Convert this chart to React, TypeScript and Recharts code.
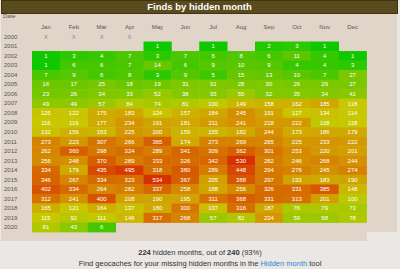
import { Scatter, ScatterChart, XAxis, YAxis } from "recharts";

const months = ["Jan", "Feb", "Mar", "Apr", "May", "Jun", "Jul", "Aug", "Sep", "Oct", "Nov", "Dec"];
const years = [
  "2000", "2001", "2002", "2003", "2004", "2005", "2006", "2007", "2008", "2009", "2010",
  "2011", "2012", "2013", "2014", "2015", "2016", "2017", "2018", "2019", "2020",
];
// finds per hidden month, one row per year (null = no cache hidden that month)
const counts: (number | null)[][] = [
  [null, null, null, null, null, null, null, null, null, null, null, null],
  [null, null, null, null, 1, null, 1, null, 2, 3, 1, null],
  [1, 3, 4, 7, 3, 7, 6, 8, 6, 11, 4, 1],
  [1, 6, 6, 7, 14, 6, 9, 10, 9, 4, 4, 3],
  [7, 9, 6, 8, 3, 9, 5, 15, 13, 10, 7, 27],
  [16, 17, 25, 18, 19, 31, 31, 28, 30, 26, 29, 27],
  [23, 26, 34, 33, 52, 38, 35, 55, 32, 35, 34, 41],
  [49, 49, 57, 84, 74, 81, 100, 149, 158, 162, 185, 118],
  [125, 122, 175, 183, 124, 157, 184, 245, 191, 127, 134, 114],
  [116, 119, 177, 234, 191, 181, 211, 241, 218, 222, 108, 118],
  [132, 156, 153, 225, 200, 159, 155, 182, 244, 173, 186, 179],
  [273, 223, 307, 266, 365, 174, 273, 269, 265, 225, 233, 222],
  [262, 360, 298, 324, 289, 341, 309, 362, 301, 253, 220, 201],
  [256, 248, 370, 289, 333, 326, 342, 530, 282, 246, 268, 244],
  [334, 179, 435, 495, 318, 380, 289, 448, 294, 276, 245, 274],
  [346, 267, 334, 323, 534, 367, 205, 388, 297, 193, 183, 190],
  [402, 334, 264, 282, 337, 258, 188, 256, 326, 331, 385, 148],
  [312, 241, 400, 208, 190, 195, 311, 368, 331, 313, 201, 100],
  [165, 121, 164, 137, 180, 300, 137, 316, 187, 76, 79, 73],
  [115, 92, 111, 146, 317, 268, 57, 82, 224, 59, 58, 78],
  [81, 43, 6, null, null, null, null, null, null, null, null, null],
];
const rowTotals = [0, 8, 61, 79, 119, 295, 438, 1264, 1881, 2136, 2143, 3095, 3460, 3734, 3967, 3607, 3508, 3190, 1935, 1607, 130];
const colTotals = [3016, 2614, 3326, 3267, 3524, 3158, 2908, 3971, 3408, 2745, 2544, 2156];
// months that cannot be found (before caching began)
const crossed: [string, string][] = [["2000", "Jan"], ["2000", "Feb"], ["2000", "Mar"], ["2000", "Apr"]];
const foundMonths = 224;
const possibleMonths = 240;

const cells = counts.flatMap((row, yi) =>
  row.flatMap((v, mi) => (v == null ? [] : [{ x: mi, y: yi, v }]))
);
const crosses = crossed.map(([y, m]) => ({ x: months.indexOf(m), y: years.indexOf(y) }));

const W = 400;
const H = 245;
const AXIS_L = 32;
const AXIS_R = 33.5;
const AXIS_T = 32;
const AXIS_B = 13;
const CELL_W = (W - AXIS_L - AXIS_R) / months.length;
const CELL_H = (H - AXIS_T - AXIS_B) / years.length;
const FONT = "'Liberation Sans', Arial, sans-serif";

const maxCell = Math.max(...cells.map((c) => c.v));
const stops: [number, number[]][] = [
  [0, [16, 200, 0]],
  [0.2, [48, 200, 0]],
  [0.42, [102, 198, 0]],
  [0.5, [116, 200, 0]],
  [0.62, [144, 200, 0]],
  [0.7, [176, 200, 0]],
  [0.76, [200, 200, 0]],
  [0.87, [212, 148, 0]],
  [1, [216, 48, 0]],
];
function heat(v: number) {
  const t = Math.log(v) / Math.log(maxCell);
  for (let i = 1; i < stops.length; i++) {
    const [t1, c1] = stops[i];
    const [t0, c0] = stops[i - 1];
    if (t <= t1) {
      const f = (t - t0) / (t1 - t0);
      const c = c0.map((a, k) => Math.round(a + (c1[k] - a) * f));
      return `rgb(${c.join(",")})`;
    }
  }
  return "rgb(216,48,0)";
}

const maxRow = Math.max(...rowTotals);
const maxCol = Math.max(...colTotals);

const HeatCell = (p: any) => (
  <g>
    <rect
      x={p.cx - CELL_W / 2}
      y={p.cy - CELL_H / 2}
      width={CELL_W + 0.4}
      height={CELL_H + 0.4}
      fill={heat(p.payload.v)}
    />
    <text x={p.cx} y={p.cy + 2.1} textAnchor="middle" fontSize={6} fill="#fff" fontFamily={FONT}>
      {p.payload.v}
    </text>
  </g>
);

const Cross = (p: any) => (
  <text x={p.cx} y={p.cy + 2.1} textAnchor="middle" fontSize={6} fill="#888" fontFamily={FONT}>
    X
  </text>
);

export default function App() {
  return (
    <div style={{ position: "relative", width: 400, height: 269, background: "#ebe7e4", fontFamily: FONT }}>
      <style>{`body{margin:0}`}</style>
      <div style={{ position: "absolute", left: 1, top: 14, width: 396, height: 218, background: "#e1d5c9" }} />
      <div style={{ position: "absolute", left: 1, top: 232, width: 366, height: 9, background: "#e1d5c9" }} />
      <div
        style={{
          position: "absolute",
          left: 1,
          top: 0,
          width: 395,
          height: 12,
          background: "#594b1d",
          border: "1px solid #3f3412",
          color: "#fff",
          fontWeight: "bold",
          fontSize: 9.5,
          lineHeight: "12px",
          textAlign: "center",
        }}
      >
        Finds by hidden month
      </div>
      <div style={{ position: "absolute", left: 3, top: 13, fontSize: 6, color: "#555" }}>Date</div>
      <div style={{ position: "absolute", left: 0, top: 0 }}>
        <ScatterChart width={W} height={H} margin={{ top: 0, right: 0, bottom: 0, left: 0 }}>
          <XAxis
            xAxisId="top"
            type="number"
            dataKey="x"
            orientation="top"
            height={AXIS_T}
            domain={[-0.5, months.length - 0.5]}
            ticks={months.map((_, i) => i)}
            interval={0}
            axisLine={false}
            tickLine={false}
            tick={(p: any) => (
              <text x={p.x} y={29} textAnchor="middle" fontSize={6} fill="#555" fontFamily={FONT}>
                {months[p.payload.value]}
              </text>
            )}
          />
          <XAxis
            xAxisId="bottom"
            type="number"
            dataKey="x"
            orientation="bottom"
            height={AXIS_B}
            domain={[-0.5, months.length - 0.5]}
            ticks={months.map((_, i) => i)}
            interval={0}
            axisLine={false}
            tickLine={false}
            tick={(p: any) => (
              <text
                x={p.x}
                y={238.5}
                textAnchor="middle"
                fontSize={6}
                fill={colTotals[p.payload.value] === maxCol ? "#d9534f" : "#888"}
                fontFamily={FONT}
              >
                {colTotals[p.payload.value]}
              </text>
            )}
          />
          <YAxis
            yAxisId="left"
            type="number"
            dataKey="y"
            orientation="left"
            width={AXIS_L}
            reversed
            domain={[-0.5, years.length - 0.5]}
            ticks={years.map((_, i) => i)}
            interval={0}
            axisLine={false}
            tickLine={false}
            tick={(p: any) => (
              <text x={4} y={p.y + 2} textAnchor="start" fontSize={6} fill="#555" fontFamily={FONT}>
                {years[p.payload.value]}
              </text>
            )}
          />
          <YAxis
            yAxisId="right"
            type="number"
            dataKey="y"
            orientation="right"
            width={AXIS_R}
            reversed
            domain={[-0.5, years.length - 0.5]}
            ticks={years.map((_, i) => i)}
            interval={0}
            axisLine={false}
            tickLine={false}
            tick={(p: any) => (
              <text
                x={396}
                y={p.y + 2}
                textAnchor="end"
                fontSize={6}
                fill={rowTotals[p.payload.value] === maxRow ? "#d9534f" : "#888"}
                fontFamily={FONT}
              >
                {rowTotals[p.payload.value]}
              </text>
            )}
          />
          <Scatter data={cells} xAxisId="top" yAxisId="left" shape={HeatCell} isAnimationActive={false} />
          <Scatter data={crosses} xAxisId="top" yAxisId="left" shape={Cross} isAnimationActive={false} />
        </ScatterChart>
      </div>
      <div
        style={{
          position: "absolute",
          left: 0,
          top: 248,
          width: 400,
          textAlign: "center",
          fontSize: 7.5,
          lineHeight: "10.5px",
          color: "#333",
        }}
      >
        <div>
          <b>{foundMonths}</b> hidden months, out of <b>{possibleMonths}</b> (
          {Math.round((foundMonths / possibleMonths) * 100)}%)
        </div>
        <div>
          Find geocaches for your missing hidden months in the{" "}
          <span style={{ color: "#2a8bd2" }}>Hidden month</span> tool
        </div>
      </div>
    </div>
  );
}
